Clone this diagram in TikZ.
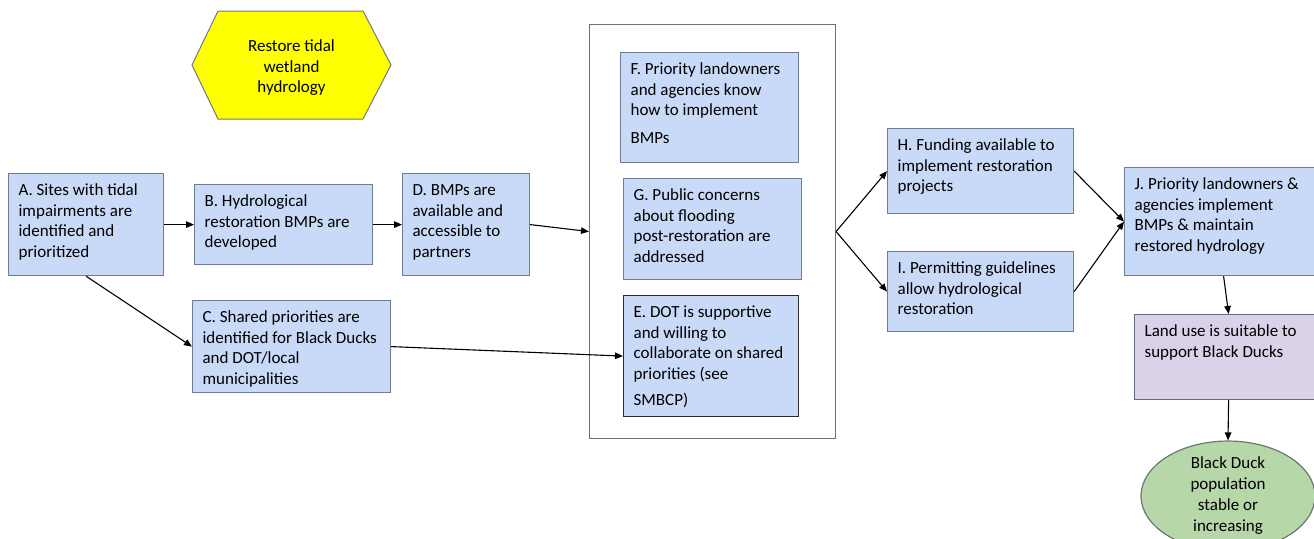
\documentclass[tikz,border=0pt]{standalone}
\usepackage{fontspec}
\setmainfont{Carlito}
\usetikzlibrary{arrows.meta,shapes.geometric}

\definecolor{boxfill}{HTML}{C9DAF8}
\definecolor{boxline}{HTML}{6E7C94}
\definecolor{darkline}{HTML}{2B2B2B}
\definecolor{groupline}{HTML}{6A7380}
\definecolor{landfill}{HTML}{D9D2E9}
\definecolor{landline}{HTML}{5F6A84}
\definecolor{duckfill}{HTML}{B6D7A8}
\definecolor{duckline}{HTML}{6A7A70}
\definecolor{hexfill}{HTML}{FFFF00}
\definecolor{hexline}{HTML}{707888}

% top-aligned, ragged-right text block of fixed size
\newcommand\boxtext[3]{\parbox[c][#2][t]{#1}{\raggedright\rule{0pt}{22pt}#3}}

\tikzset{
  stepbox/.style={draw=boxline, fill=boxfill, line width=1.2pt,
    inner xsep=10pt, inner ysep=0pt, anchor=north west, text=black},
  flow/.style={-{Triangle[length=8pt,width=6.5pt]}, line width=1.1pt, draw=black},
}

\begin{document}
\begin{tikzpicture}[x=1pt, y=-1pt, font=\fontsize{17pt}{20.5pt}\selectfont]
\useasboundingbox (0,0) rectangle (1314,538);

% goal hexagon
\draw[draw=hexline, fill=hexfill, line width=1pt]
  (192,65) -- (218,11) -- (363,11) -- (391,65) -- (363,119) -- (218,119) -- cycle;
\node[align=center] (goal) at (291.5,68) {Restore tidal\\wetland\\hydrology};

% left chain
\node[stepbox] (A) at (8,173) {\boxtext{135pt}{102pt}{A. Sites with tidal\\impairments are\\identified and\\prioritized}};
\node[stepbox] (B) at (194,184) {\boxtext{158pt}{80pt}{B. Hydrological\\restoration BMPs are\\developed}};
\node[stepbox] (D) at (402,173) {\boxtext{107pt}{102pt}{D. BMPs are\\available and\\accessible to\\partners}};
\node[stepbox] (C) at (192,300) {\boxtext{178pt}{92pt}{C. Shared priorities are\\identified for Black Ducks\\and DOT/local\\municipalities}};

% grouping frame with its three conditions
\node[draw=groupline, fill=white, line width=1.1pt, inner sep=0pt, anchor=north west,
  minimum width=246pt, minimum height=414pt] (group) at (589,24) {};
\node[stepbox] (F) at (620,52) {\boxtext{158pt}{110pt}{F. Priority landowners\\and agencies know\\how to implement\\[7pt]BMPs}};
\node[stepbox] (G) at (623,178) {\boxtext{158pt}{101pt}{G. Public concerns\\about flooding\\post-restoration are\\addressed}};
\node[stepbox, draw=darkline] (E) at (623,295) {\boxtext{155pt}{121pt}{E. DOT is supportive\\and willing to\\collaborate on shared\\priorities (see\\[6pt]SMBCP)}};

% right side
\node[stepbox] (H) at (887,128) {\boxtext{166pt}{85pt}{H. Funding available to\\implement restoration\\projects}};
\node[stepbox] (I) at (887,251) {\boxtext{166pt}{80pt}{I. Permitting guidelines\\allow hydrological\\restoration}};
\node[stepbox] (J) at (1124,167) {\boxtext{178pt}{108pt}{J. Priority landowners \&\\agencies implement\\BMPs \& maintain\\restored hydrology}};
\node[stepbox, draw=landline, fill=landfill] (land) at (1134,314) {\boxtext{168pt}{85pt}{Land use is suitable to\\support Black Ducks}};
\node[ellipse, draw=duckline, fill=duckfill, line width=1.2pt, align=center, inner sep=0pt,
  minimum width=174pt, minimum height=106pt, font=\fontsize{17pt}{21pt}\selectfont]
  (duck) at (1228,496) {Black Duck\\population\\stable or\\increasing};

% connectors
\draw[flow] (A.east) -- (B.west);
\draw[flow] (B.east) -- (D.west);
\draw[flow] (D.east) -- (group.west);
\draw[flow] (A.south) -- (C.west);
\draw[flow] (C.east) -- (E.west);
\draw[flow] (group.east) -- (H.west);
\draw[flow] (group.east) -- (I.west);
\draw[flow] (H.east) -- (J.west);
\draw[flow] (I.east) -- (J.west);
\draw[flow] (J.south) -- (land.north);
\draw[flow] (land.south) -- (duck.north);
\end{tikzpicture}
\end{document}
